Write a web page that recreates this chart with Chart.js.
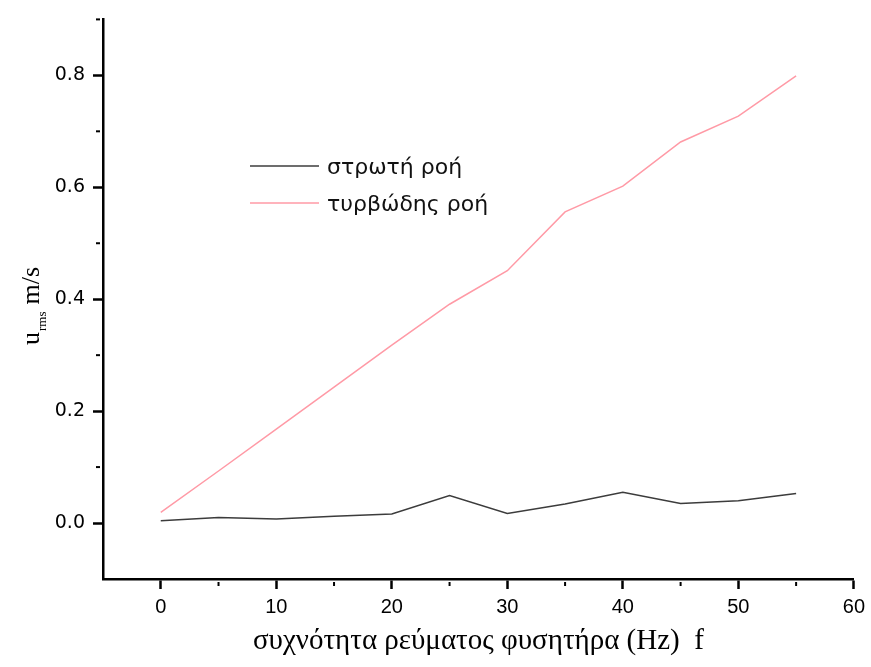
<!DOCTYPE html>
<html>
<head>
<meta charset="utf-8">
<script src="https://cdn.jsdelivr.net/npm/chart.js@4.4.0/dist/chart.umd.min.js"></script>
<style>
  html, body { margin: 0; padding: 0; background: #fff; }
  #wrap { width: 871px; height: 667px; }
</style>
</head>
<body>
<div id="wrap"><canvas id="flowChart" width="871" height="667"></canvas></div>
<script>
// fan frequency (Hz)
const frequencies = [0, 5, 10, 15, 20, 25, 30, 35, 40, 45, 50, 55];
// u_rms (m/s)
const laminarRms = [0.004, 0.010, 0.007, 0.012, 0.016, 0.049, 0.017, 0.034, 0.055, 0.035, 0.040, 0.053];
const turbulentRms = [0.019, 0.093, 0.168, 0.243, 0.318, 0.391, 0.451, 0.556, 0.602, 0.681, 0.727, 0.799];

const seriesLabels = ['στρωτή ροή', 'τυρβώδης ροή'];
const xTicks = [0, 10, 20, 30, 40, 50, 60];
const yTicks = [0.0, 0.2, 0.4, 0.6, 0.8];
const xMinorTicks = [5, 15, 25, 35, 45, 55];
const yMinorTicks = [0.1, 0.3, 0.5, 0.7, 0.9];

const toPoints = vals => vals.map((v, i) => ({ x: frequencies[i], y: v }));

// minor ticks, inset legend and the y title with its subscript
const overlayPlugin = {
    id: 'overlay',
    afterDraw(chart) {
        const ctx = chart.ctx;
        const area = chart.chartArea;
        const xs = chart.scales.x;
        const ys = chart.scales.y;

        ctx.save();
        ctx.strokeStyle = '#000';
        ctx.lineWidth = 2;
        xMinorTicks.forEach(v => {
            const px = xs.getPixelForValue(v);
            ctx.beginPath();
            ctx.moveTo(px, area.bottom + 3);
            ctx.lineTo(px, area.bottom + 7);
            ctx.stroke();
        });
        yMinorTicks.forEach(v => {
            const py = ys.getPixelForValue(v);
            ctx.beginPath();
            ctx.moveTo(area.left - 3, py);
            ctx.lineTo(area.left - 7, py);
            ctx.stroke();
        });

        // legend
        const rows = [166, 203];
        ctx.font = '22px "DejaVu Sans"';
        ctx.textBaseline = 'middle';
        ctx.fillStyle = '#111';
        chart.data.datasets.forEach((ds, i) => {
            ctx.strokeStyle = ds.borderColor;
            ctx.lineWidth = 1.5;
            ctx.beginPath();
            ctx.moveTo(250, rows[i]);
            ctx.lineTo(319, rows[i]);
            ctx.stroke();
            ctx.fillText(ds.label, 327, rows[i] + 2);
        });

        // y axis title: u_rms m/s
        ctx.translate(30, 345);
        ctx.rotate(-Math.PI / 2);
        ctx.textBaseline = 'alphabetic';
        ctx.fillStyle = '#000';
        ctx.font = '26px "Liberation Serif"';
        ctx.fillText('u', 0, 9);
        let w = ctx.measureText('u').width;
        ctx.font = '13px "Liberation Serif"';
        ctx.fillText('rms', w + 1, 16);
        w += ctx.measureText('rms').width + 8;
        ctx.font = '26px "Liberation Serif"';
        ctx.fillText('m/s', w, 9);
        ctx.restore();
    }
};

const ctx = document.getElementById('flowChart').getContext('2d');
new Chart(ctx, {
    type: 'line',
    data: {
        datasets: [
            {
                label: seriesLabels[0],
                data: toPoints(laminarRms),
                borderColor: '#3c3c3c',
                borderWidth: 1.5,
                pointRadius: 0,
                tension: 0
            },
            {
                label: seriesLabels[1],
                data: toPoints(turbulentRms),
                borderColor: '#ff9aa6',
                borderWidth: 1.5,
                pointRadius: 0,
                tension: 0
            }
        ]
    },
    options: {
        responsive: false,
        animation: false,
        devicePixelRatio: 1,
        layout: {
            padding: { top: 11, right: 13, left: 0, bottom: 0 }
        },
        plugins: {
            legend: { display: false },
            tooltip: { enabled: false }
        },
        scales: {
            x: {
                type: 'linear',
                min: -5,
                max: 60,
                afterBuildTicks: s => { s.ticks = xTicks.map(v => ({ value: v })); },
                afterFit: s => { s.height = 88; },
                ticks: {
                    color: '#000',
                    font: { family: 'Liberation Sans', size: 20 },
                    padding: 6,
                    maxRotation: 0,
                    autoSkip: false
                },
                grid: {
                    drawOnChartArea: false,
                    tickLength: 10,
                    tickColor: '#000',
                    tickWidth: 2.5
                },
                border: { color: '#000', width: 2.5 },
                title: {
                    display: true,
                    text: 'συχνότητα ρεύματος φυσητήρα (Hz)  f',
                    color: '#000',
                    font: { family: 'Liberation Serif', size: 29 },
                    padding: { top: 0, bottom: 8 }
                }
            },
            y: {
                min: -0.1,
                max: 0.9,
                afterBuildTicks: s => { s.ticks = yTicks.map(v => ({ value: v })); },
                afterFit: s => { s.width = 103; },
                ticks: {
                    color: '#000',
                    font: { family: 'DejaVu Sans', size: 19 },
                    padding: 8,
                    callback: v => v.toFixed(1)
                },
                grid: {
                    drawOnChartArea: false,
                    tickLength: 10,
                    tickColor: '#000',
                    tickWidth: 2.5
                },
                border: { color: '#000', width: 2.5 }
            }
        }
    },
    plugins: [overlayPlugin]
});
</script>
</body>
</html>
